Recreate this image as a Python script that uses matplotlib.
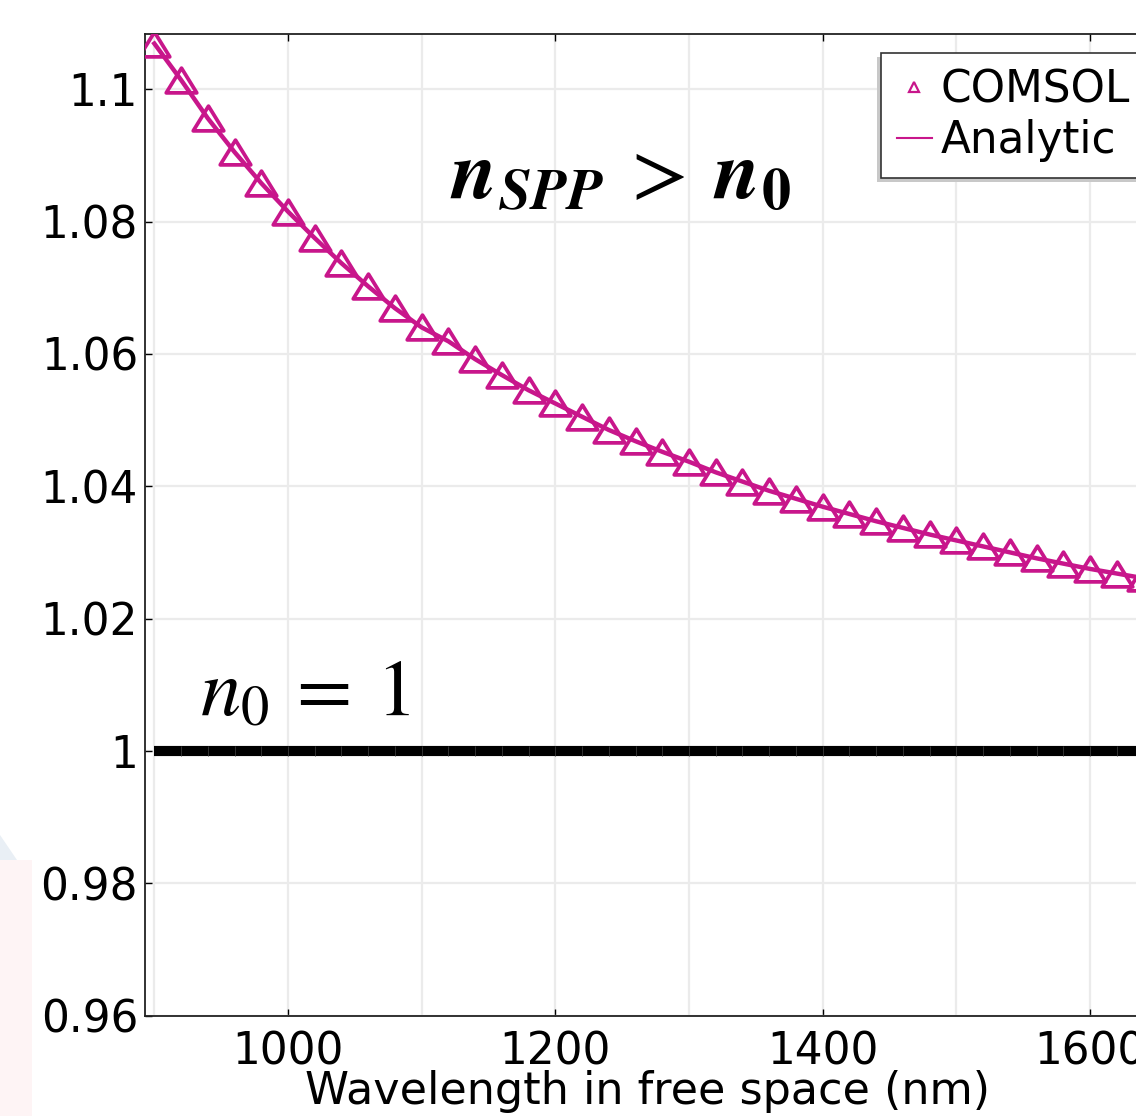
import numpy as np
import matplotlib
matplotlib.use("Agg")
import matplotlib.pyplot as plt
from matplotlib.path import Path
from matplotlib.ticker import MultipleLocator
from matplotlib.patches import Rectangle, Polygon

# ---- data ----
wavelength = [900, 920, 940, 960, 980, 1000, 1020, 1040, 1060, 1080,
              1100, 1120, 1140, 1160, 1180, 1200, 1220, 1240, 1260, 1280,
              1300, 1320, 1340, 1360, 1380, 1400, 1420, 1440, 1460, 1480,
              1500, 1520, 1540, 1560, 1580, 1600, 1620, 1640]
n_comsol = [1.1069, 1.1014, 1.0956, 1.0905, 1.0858, 1.0815, 1.0775, 1.0737, 1.0702, 1.0669,
            1.0640, 1.0619, 1.0592, 1.0568, 1.0545, 1.0525, 1.0505, 1.0485, 1.0468, 1.0452,
            1.0437, 1.0421, 1.0407, 1.0393, 1.0381, 1.0369, 1.0358, 1.0347, 1.0337, 1.0327,
            1.0318, 1.0309, 1.0300, 1.0291, 1.0283, 1.0275, 1.0268, 1.0261]
n_analytic = n_comsol
n0 = [1.0] * len(wavelength)

xticks = [1000, 1200, 1400, 1600]
yticks = [0.96, 0.98, 1.0, 1.02, 1.04, 1.06, 1.08, 1.1]
ytick_labels = ["0.96", "0.98", "1", "1.02", "1.04", "1.06", "1.08", "1.1"]

MAG = "#C8168B"
W, H = 1136, 1116

plt.rcParams["mathtext.fontset"] = "stix"
fig = plt.figure(figsize=(W / 100, H / 100), dpi=100)
fig.patch.set_facecolor("white")

# faint watermark at lower left
fig.patches.append(Rectangle((0, 0), 32 / W, 1 - 860 / H, transform=fig.transFigure,
                             facecolor="#FEF4F5", edgecolor="none", zorder=-10))
fig.patches.append(Polygon([(0, 1 - 835 / H), (17 / W, 1 - 860 / H), (0, 1 - 860 / H)],
                           closed=True, transform=fig.transFigure,
                           facecolor="#E9EFF5", edgecolor="none", zorder=-10))

left_px, right_px, top_px, bot_px = 145, 1150, 34.3, 1015.5
ax = fig.add_axes([left_px / W, 1 - bot_px / H, (right_px - left_px) / W, (bot_px - top_px) / H])

ppn = 802 / 600.0
xl = 1000 - (288 - left_px) / ppn
xr = 1000 + (right_px - 288) / ppn
ax.set_xlim(xl, xr)
ax.set_ylim(0.96, 1.1083)

# grid
ax.xaxis.set_major_locator(MultipleLocator(200))
ax.xaxis.set_minor_locator(MultipleLocator(100))
ax.set_yticks(yticks)
ax.set_yticklabels(ytick_labels)
ax.set_xticks(xticks)
ax.grid(True, which="both", color="#EBEBEB", lw=1.6, zorder=0)
ax.set_axisbelow(True)
ax.tick_params(which="major", direction="in", length=5, width=1, top=True, right=True,
               labelsize=31.5, pad=5, colors="black")
ax.tick_params(axis="x", which="major", pad=11)
ax.tick_params(which="minor", length=0)
for s in ax.spines.values():
    s.set_linewidth(1.3)
    s.set_color("#222222")

# n0 = 1 thick black line
ax.plot(wavelength, n0, color="black", lw=7.3, solid_capstyle="butt", zorder=3)
ax.plot(wavelength[1:], n0[1:], ls="none", marker="|", markersize=6.5, mew=0.6,
        color="#3a3a3a", zorder=4)

# analytic line + COMSOL triangles
tri = Path([(0, 0.81), (-1, -0.81), (1, -0.81), (0, 0.81)],
           [Path.MOVETO, Path.LINETO, Path.LINETO, Path.CLOSEPOLY])
ax.plot(wavelength, n_analytic, color=MAG, lw=3.2, zorder=5, label="Analytic")
ax.plot(wavelength, n_comsol, ls="none", marker=tri, markersize=22, mew=2.7,
        mfc="none", mec=MAG, zorder=6, label="COMSOL")

ax.set_xlabel("Wavelength in free space (nm)", fontsize=32, labelpad=-3)

# legend
h_line, = ax.plot([], [], color=MAG, lw=1.5)
h_mark, = ax.plot([], [], ls="none", marker="^", markersize=7, mew=1.6, mfc="none", mec=MAG)
leg = fig.legend([h_mark, h_line], ["COMSOL", "Analytic"], loc="upper left",
                 bbox_to_anchor=(881 / W, 1 - 52.7 / H), fontsize=31.5, frameon=True,
                 fancybox=False, shadow=False, framealpha=1.0, handlelength=0.8,
                 handletextpad=0.2, borderpad=0.36, labelspacing=0.17, borderaxespad=0)
leg.get_frame().set_edgecolor("#333333")
leg.get_frame().set_linewidth(1.2)
leg.get_frame().set_facecolor("white")
leg.set_zorder(20)

# annotations
fig.text(450 / W, 1 - 199 / H,
         r"$\mathbfit{n}_{\mathbfit{SPP}}\:>\:\mathbfit{n}_{\mathbf{0}}$",
         fontsize=60, ha="left", va="baseline")
fig.text(200 / W, 1 - 716 / H, r"$n_0\:=\:1$", fontsize=58, ha="left", va="baseline")

# legend shadow (offset left-down)
fig.canvas.draw()
bb = leg.get_window_extent().transformed(fig.transFigure.inverted())
fig.patches.append(Rectangle((bb.x0 - 4 / W, bb.y0 - 4 / H), bb.width, bb.height,
                             transform=fig.transFigure, facecolor="#C8C8C8",
                             edgecolor="none", zorder=19))

fig.savefig("out.png", dpi=100, facecolor="white")
